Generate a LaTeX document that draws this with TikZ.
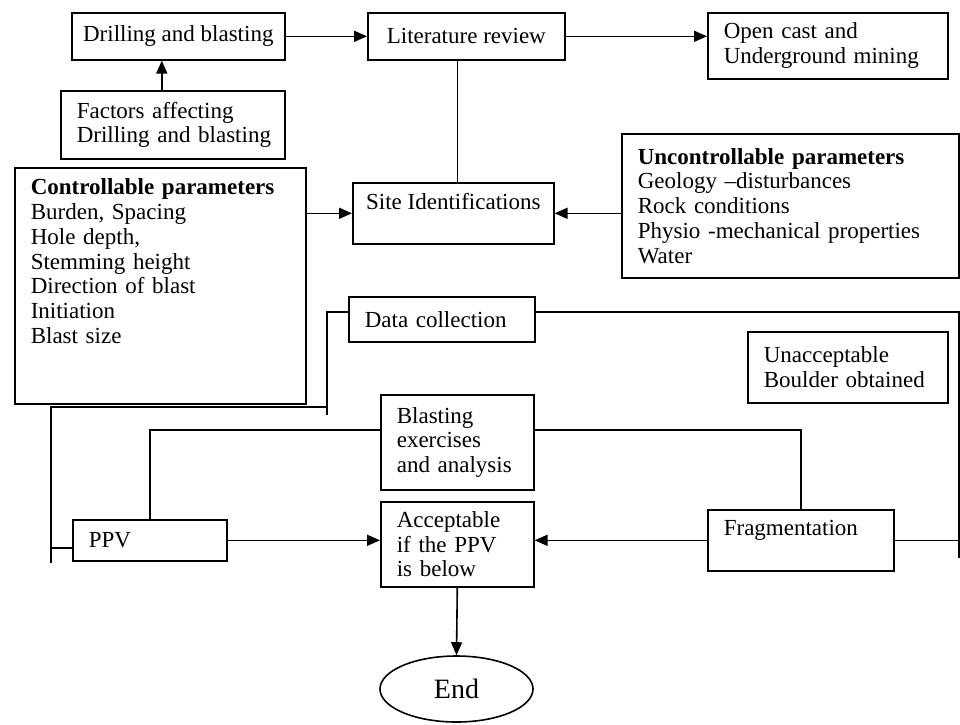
\documentclass[tikz,border=0pt]{standalone}
\usepackage{fontspec}
\setmainfont{Liberation Serif}
\usetikzlibrary{arrows.meta,shapes.geometric}
\newcommand{\boxfont}{\fontsize{23}{24.7}\selectfont}
\tikzset{
	blk/.style={draw, line width=1.6pt, anchor=north west, inner xsep=16pt, inner ysep=0pt, align=left, font=\boxfont},
	blkc/.style={blk, align=center, inner xsep=0pt},
	wire/.style={line width=1.6pt},
	arr/.style={wire, -{Triangle[length=13pt,width=11pt]}}
}
\begin{document}
\begin{tikzpicture}[x=1pt,y=-1pt]
			%%%%% START %%%%%
			\useasboundingbox (0,0) rectangle (960,724);
			
			\node[blkc, minimum width=213pt, minimum height=47pt] (drill) at (71,12) {Drilling and blasting};
			\node[blkc, minimum width=197pt, minimum height=47pt] (lit) at (367,12) {Literature review};
			\node[blk, text width=208pt, minimum height=66pt] (mine) at (707,12) {Open cast and\\Underground mining};
			\node[blk, inner xsep=12pt, text width=200pt, minimum height=68pt] (factors) at (60,90) {\hspace*{4pt}Factors affecting\\\hspace*{4pt}Drilling and blasting};
			
			\node[blk, text width=259pt, minimum height=236pt] (ctrl) at (14,167) {\textbf{Controllable parameters}\\Burden, Spacing\\Hole depth,\\Stemming height\\Direction of blast\\Initiation\\Blast size\\\mbox{}\\\mbox{}};
			\node[blkc, minimum width=201pt, minimum height=61pt] (site) at (352,182) {Site Identifications\\\mbox{}};
			\node[blk, text width=305pt, minimum height=144pt] (unctrl) at (621,133) {\textbf{Uncontrollable parameters}\\Geology --disturbances\\Rock conditions\\Physio -mechanical properties\\Water};
			
			\node[blk, text width=154pt, minimum height=45pt] (data) at (348,296) {Data collection};
			\node[blk, text width=168pt, minimum height=71pt] (unacc) at (747,331) {Unacceptable\\Boulder obtained};
			\node[blk, text width=121pt, minimum height=95pt] (blast) at (380,394) {Blasting\\exercises\\and analysis};
			
			\node[blk, text width=122pt, minimum height=41pt] (ppv) at (72,519) {PPV};
			\node[blk, text width=121pt, minimum height=85pt] (acc) at (380,501) {Acceptable\\if the PPV\\is below};
			\node[blk, text width=154pt, minimum height=61pt] (frag) at (707,509) {Fragmentation\\\mbox{}};
			\node[draw, ellipse, line width=1.6pt, minimum width=153pt, minimum height=66pt, inner sep=0pt, font=\fontsize{28}{30}\selectfont] (end) at (456.5,689) {End};
			
			\coordinate (lrail) at (51,407);
			\coordinate (lrailend) at (51,563);
			\coordinate (dtail) at (327,415);
			\coordinate (rrailend) at (959,558);
			
			\draw[arr] ([xshift=-11pt]factors.north) -- ([xshift=-11pt]factors.north |- drill.south);
			\draw[arr] (drill.east) -- (lit.west);
			\draw[arr] (lit.east) -- (lit.east -| mine.west);
			\draw[wire] (lit.south -| acc.north) -- (site.north -| acc.north);
			\draw[arr] (site.west -| ctrl.east) -- (site.west);
			\draw[arr] (site.east -| unctrl.west) -- (site.east);
			
			\draw[wire] ([yshift=7.5pt]data.west) -| (dtail);
			\draw[wire] (dtail |- lrail) -- (lrail) -- (lrailend);
			\draw[wire] ([yshift=-7.5pt]ppv.west) -- ([yshift=-7.5pt]ppv.west -| lrail);
			\draw[wire] ([yshift=7.5pt]data.east) -| (rrailend);
			\draw[wire] (frag.east) -- (frag.east -| rrailend);
			
			\draw[wire] ([yshift=12.5pt]blast.west) -| (ppv.north);
			\draw[wire] ([yshift=12.5pt]blast.east) -| (frag.north);
			\draw[arr] (ppv.east) -- (ppv.east -| acc.west);
			\draw[arr] (frag.west) -- (frag.west -| acc.east);
			\draw[arr] (acc.south) -- (end.north);
			%%%%% END %%%%%
\end{tikzpicture}
\end{document}
